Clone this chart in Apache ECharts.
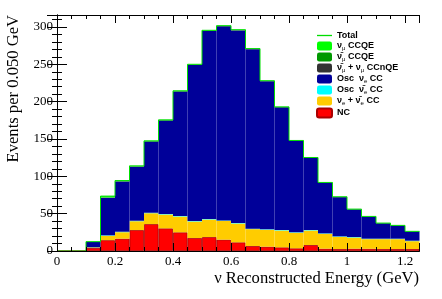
<!DOCTYPE html>
<html>
<head>
<meta charset="utf-8">
<script src="https://cdn.jsdelivr.net/npm/echarts@6/dist/echarts.min.js"></script>
<style>html,body{margin:0;padding:0;background:#fff;}#c{width:442px;height:299px;}</style>
</head>
<body>
<div id="c"></div>
<script>
// bin lower edges (GeV), width 0.05
const binEdges = [0,0.05,0.1,0.15,0.2,0.25,0.3,0.35,0.4,0.45,0.5,0.55,0.6,0.65,0.7,0.75,0.8,0.85,0.9,0.95,1.0,1.05,1.1,1.15,1.2];
const binWidth = 0.05;
// stacked components, bottom to top
const ncVals      = [0,0,4,14.5,16.5,28,36,30.3,25,17.4,18.7,15.2,11.6,6.7,5.8,4.9,3.6,8,3.1,2.7,3.1,3,2.7,2.7,2.7];
const beamNueVals = [0,0,0.8,5.9,8.7,11.9,14.6,18.6,21.2,22.1,23.5,25.2,25.2,22.6,22.6,22.5,20.8,19.4,19.9,16.3,15,12.9,13.2,13.2,10.5];
const oscNuebarVals = [0,0,0.2,0.6,0.6,0.6,0.6,0.6,0.6,0.6,0.6,0.6,0.6,0.6,0.6,0.6,0.6,0.6,0.6,0.6,0.6,0.6,0.6,0.6,0.6];
const oscNueVals  = [0,0,7.2,50.2,67.2,72.4,95.3,125.1,166.7,208.9,251.7,259.8,258,240.3,198.4,164.4,122.5,96.7,67.7,52.5,37,29.5,20.6,17.5,12.2];
const ccnqeVals   = [0,0,0,0.3,0.3,0.3,0.3,0.3,0.3,0.3,0.3,0.3,0.3,0.3,0.2,0.2,0.2,0.2,0.2,0.2,0.1,0.1,0.1,0.1,0.1];
const numubarVals = [0,0,0,0.2,0.2,0.2,0.2,0.2,0.2,0.2,0.2,0.2,0.2,0.2,0.1,0.1,0.1,0.1,0.1,0.1,0.1,0.1,0.1,0.1,0.1];
const numuVals    = [0,0,0.3,1.8,0.8,0.6,0.5,0.5,0.5,0.5,0.5,0.4,0.4,0.3,0.3,0.3,0.2,0.2,0.2,0.2,0.2,0.1,0.1,0.1,0.1];
const xTickLabels = ['0','0.2','0.4','0.6','0.8','1','1.2'];

const comps = [
  {name:'NC', data:ncVals, color:'#ff0000', border:'#aa0000'},
  {name:'νe + ν̄e CC', data:beamNueVals, color:'#ffcc00', border:'#ffcc00'},
  {name:'Osc ν̄e CC', data:oscNuebarVals, color:'#00ffff', border:'#00ffff'},
  {name:'Osc νe CC', data:oscNueVals, color:'#000099', border:'#000099'},
  {name:'ν̄μ + νμ CCnQE', data:ccnqeVals, color:'#333333', border:'#333333'},
  {name:'ν̄μ CCQE', data:numubarVals, color:'#009900', border:'#009900'},
  {name:'νμ CCQE', data:numuVals, color:'#00ff00', border:'#00ff00'}
];
const totals = binEdges.map((e,i)=>comps.reduce((s,c)=>s+c.data[i],0));
const totalLine = binEdges.map((e,i)=>[e, totals[i]]);
totalLine.push([binEdges[binEdges.length-1]+binWidth, totals[totals.length-1]]);

const richNames = {
  'Total':'Total',
  'νμ CCQE':'ν{s|μ} CCQE',
  'ν̄μ CCQE':'ν̄{s|μ} CCQE',
  'ν̄μ + νμ CCnQE':'ν̄{s|μ} + ν{s|μ} CCnQE',
  'Osc νe CC':'Osc  ν{s|e} CC',
  'Osc ν̄e CC':'Osc  ν̄{s|e} CC',
  'νe + ν̄e CC':'ν{s|e} + ν̄{s|e} CC',
  'NC':'NC'
};

const grid = {left:57, right:22.5, top:15, bottom:48};
const serif = 'Liberation Serif';
const series = comps.map(c=>({
  name:c.name, type:'bar', stack:'all', xAxisIndex:1, yAxisIndex:0,
  barCategoryGap:'0%', barGap:'0%',
  data:c.data,
  itemStyle:{color:c.color, borderColor:c.border, borderWidth:c.name==='NC'?0.8:0},
  emphasis:{disabled:true}, animation:false
}));
series.push({
  name:'Total', type:'line', xAxisIndex:0, yAxisIndex:0, step:'end',
  data:totalLine, symbol:'none', lineStyle:{color:'#00dd00', width:1}, itemStyle:{color:'#00dd00'},
  z:5, animation:false
});

const legendOrder = [{name:'Total', icon:'path://M0,0H16V1.4H0Z', itemStyle:{color:'#00dd00', borderWidth:0}, lineStyle:{color:'#00dd00'}},
  'νμ CCQE','ν̄μ CCQE','ν̄μ + νμ CCnQE','Osc νe CC','Osc ν̄e CC','νe + ν̄e CC','NC'];

const chart = echarts.init(document.getElementById('c'), null, {renderer:'canvas'});
chart.setOption({
  animation:false,
  backgroundColor:'#fff',
  grid:grid,
  legend:{
    orient:'vertical', left:311, top:26, itemWidth:15, itemHeight:9, itemGap:1.5,
    data:legendOrder,
    formatter:n=>richNames[n]||n,
    textStyle:{fontFamily:'Liberation Sans', fontWeight:'bold', fontSize:9, color:'#000',
      rich:{s:{fontFamily:'Liberation Sans', fontSize:6, fontWeight:'normal', padding:[4,0,0,0]}}},
    selectedMode:false
  },
  xAxis:[
    {type:'value', position:'bottom', min:0, max:1.25, interval:0.2, z:10,
     axisLine:{lineStyle:{color:'#000', width:1}},
     axisTick:{inside:true, length:8, lineStyle:{color:'#000'}},
     minorTick:{show:true, splitNumber:4, length:4, lineStyle:{color:'#000'}},
     splitLine:{show:false},
     axisLabel:{fontFamily:serif, fontSize:13, color:'#000', margin:4,
       formatter:v=>xTickLabels[Math.round(v/0.2)]||''}},
    {type:'category', show:false, data:binEdges.map(String)},
    {type:'value', position:'top', min:0, max:1.25, interval:0.2, z:10,
     axisLine:{lineStyle:{color:'#000', width:1}},
     axisTick:{inside:true, length:8, lineStyle:{color:'#000'}},
     minorTick:{show:true, splitNumber:4, length:4, lineStyle:{color:'#000'}},
     splitLine:{show:false}, axisLabel:{show:false}}
  ],
  yAxis:[
    {type:'value', position:'left', min:0, max:316, interval:50, z:10,
     axisLine:{show:true, lineStyle:{color:'#000', width:1}},
     axisTick:{show:true, inside:true, length:10, lineStyle:{color:'#000'}},
     minorTick:{show:true, splitNumber:5, length:5, lineStyle:{color:'#000'}},
     splitLine:{show:false},
     axisLabel:{fontFamily:serif, fontSize:13, color:'#000', margin:4, showMaxLabel:false}},
    {type:'value', position:'right', min:0, max:316, interval:50, z:10,
     axisLine:{show:true, lineStyle:{color:'#000', width:1}},
     axisTick:{show:true, inside:true, length:10, lineStyle:{color:'#000'}},
     minorTick:{show:true, splitNumber:5, length:5, lineStyle:{color:'#000'}},
     splitLine:{show:false}, axisLabel:{show:false}}
  ],
  graphic:[
    {type:'text', x:14, y:15, rotation:Math.PI/2,
     style:{text:'Events per 0.050 GeV', fontFamily:serif, fontSize:16.6, fill:'#000', align:'right', verticalAlign:'middle'}},
    {type:'text', x:419, y:279,
     style:{text:'ν Reconstructed Energy (GeV)', fontFamily:serif, fontSize:16.6, fill:'#000', align:'right', verticalAlign:'middle'}}
  ],
  series:series
});
</script>
</body>
</html>
